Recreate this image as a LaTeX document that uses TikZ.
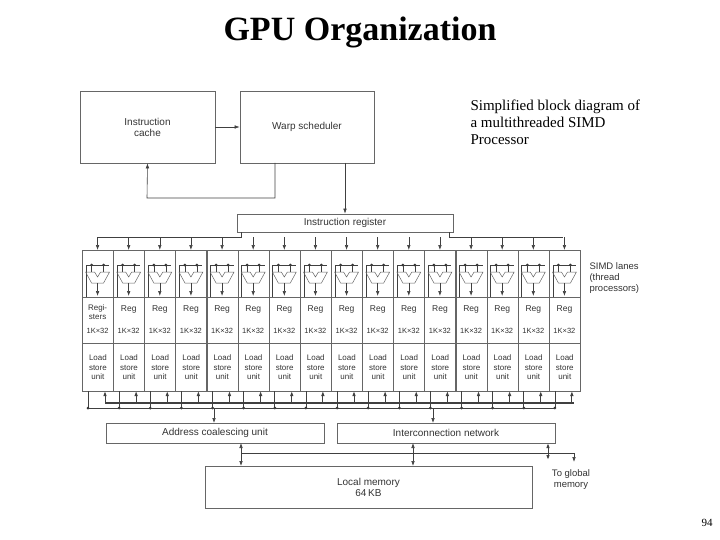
\documentclass[tikz,border=0pt]{standalone}
\usepackage{fontspec}
\usetikzlibrary{arrows.meta}
\setmainfont{Liberation Serif}
\newfontfamily\sansf{Liberation Sans}
\begin{document}
\begin{tikzpicture}[x=1pt,y=-1pt,
  box/.style={draw=black!60,line width=0.7pt,inner sep=0pt,font=\sansf\fontsize{10}{11}\selectfont,text=black!80,align=center},
  ln/.style={draw=black!75,line width=0.6pt},
  arr/.style={ln,-{Latex[length=5pt,width=3.6pt]}},
  darr/.style={ln,{Latex[length=5pt,width=3.6pt]}-{Latex[length=5pt,width=3.6pt]}},
  lab/.style={font=\sansf\fontsize{9.5}{11}\selectfont,text=black!80,align=center},
  dot/.style={circle,fill=black!80,inner sep=0pt,minimum size=3pt}]
\useasboundingbox (0,0) rectangle (720,540);
\node[font=\bfseries\fontsize{34}{36}\selectfont] (title) at (360,32) {GPU Organization};
\node[anchor=north west,align=left,font=\fontsize{15}{17}\selectfont] (desc) at (467,96) {Simplified block diagram of\\a multithreaded SIMD\\Processor};
\node[font=\fontsize{11}{12}\selectfont] (pg) at (707,523) {94};
\node[box,minimum width=135,minimum height=72] (ic) at (147.5,127) {Instruction\\cache};
\node[box,minimum width=134,minimum height=72] (ws) at (307,127) {Warp scheduler};
\node[box,minimum width=216,minimum height=18] (ir) at (345,223) {Instruction register};
\draw[arr] (ic.east) -- (ws.west);
\coordinate (fb1) at (275,198); \coordinate (fb2) at (147,198);
\draw[arr] (275,163) -- (fb1) -- (fb2) -- (ic.south);
\draw[arr] (345,163) -- (ir.north);
\draw[ln] (241,232) -- (241,237) -- (97.5,237);
\draw[ln] (449,232) -- (449,237) -- (563.3,237);
% lanes
\foreach \i in {0,...,15}{
  \pgfmathsetmacro{\L}{82+\i*31.125}
  \pgfmathsetmacro{\C}{\L+15.56}
  \node[box,minimum width=31.1,minimum height=47,anchor=north west] (alu\i) at (\L,250) {};
  \node[box,minimum width=31.1,minimum height=46,anchor=north west] (reg\i) at (\L,297) {};
  \node[box,minimum width=31.1,minimum height=48,anchor=north west,lab,font=\sansf\fontsize{8}{9.5}\selectfont] (ls\i) at (\L,343) {Load\\store\\unit};
  \draw[arr] (\C,237) -- (\C,250);
  % ALU glyph
  \draw[ln] (\L+4,297) -- (\L+4,265) -- (\L+27,265);
  \node[dot] at (\C-6,265) {}; \node[dot] at (\C+6,265) {};
  \draw[ln] (\C-6,265) -- (\C-6,272); \draw[ln] (\C+6,265) -- (\C+6,272);
  \draw[draw=black!60,line width=0.5pt] (\C-12,272) -- (\C-3,272) -- (\C,277) -- (\C+3,272) -- (\C+12,272) -- (\C+6,283) -- (\C-6,283) -- cycle;
  \draw[arr] (\C,283) -- (\C,296);
  \draw[ln] (\L+6,391) -- (\L+6,408);
  \node[dot] at (\L+6,408) {};
  \draw[arr,line width=1pt] (\L+23,403) -- (\L+23,391);
}
\node[lab,anchor=north,font=\sansf\fontsize{8}{9.5}\selectfont] at (97.6,301) {Regi-\\sters};
\foreach \i in {1,...,15}{\node[lab,font=\sansf\fontsize{8.5}{10}\selectfont] at (82+\i*31.125+15.56,309) {Reg};}
\foreach \i in {0,...,15}{\node[lab,inner sep=0pt,font=\sansf\fontsize{7.5}{10}\selectfont] at (82+\i*31.125+15.56,331) {1K×32};}
\node[lab,anchor=north west,align=left] (simd) at (586,259) {SIMD lanes\\(thread\\processors)};
% buses
\draw[ln,line width=2pt] (105,403) -- (573.5,403);
\draw[ln] (88,408) -- (555,408);
\node[box,minimum width=218,minimum height=20] (acu) at (215,433) {Address coalescing unit};
\node[box,minimum width=218,minimum height=20] (icn) at (446,433) {Interconnection network};
\node[box,minimum width=327,minimum height=42] (lm) at (368.5,487) {Local memory\\64\,KB};
\draw[arr] (214,408) -- (214,423);
\draw[arr] (433,408) -- (433,423);
\draw[ln] (241,453) -- (574,453);
\draw[darr] (241,443) -- (241,466);
\draw[darr] (413,443) -- (413,466);
\coordinate (gm) at (574,462);
\draw[darr,line width=1pt] (548,443) -- (548,460);
\draw[arr] (574,453) -- (gm);
\node[lab,anchor=north] (tgm) at (571,466) {To global\\memory};
\end{tikzpicture}
\end{document}
